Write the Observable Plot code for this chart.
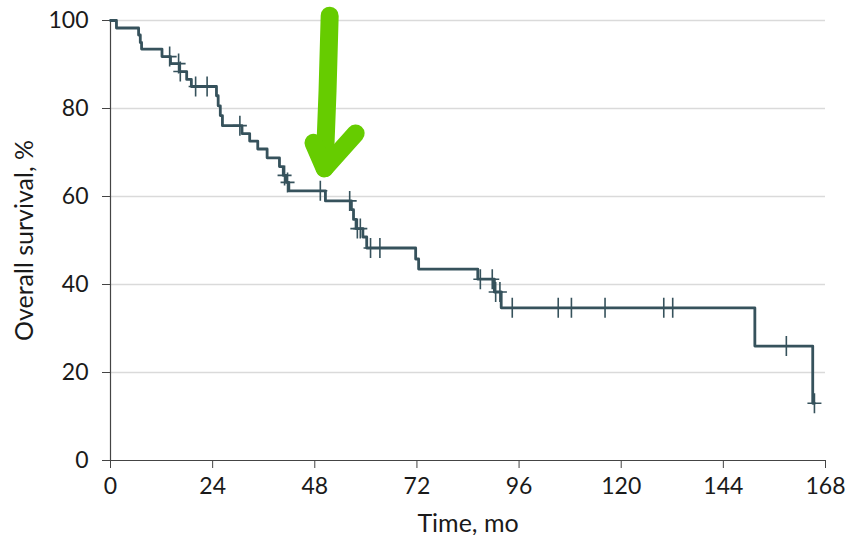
<!DOCTYPE html>
<html>
<head>
<meta charset="utf-8">
<script src="https://cdn.jsdelivr.net/npm/d3@7"></script>
<script src="https://cdn.jsdelivr.net/npm/@observablehq/plot@0.6"></script>
<style>
  body { margin: 0; background: #fff; }
</style>
</head>
<body>
<div id="chart"></div>
<script>
// Kaplan-Meier overall survival: event times (months) and survival (%) after each step
const stepTimes = [0, 1.4, 6.6, 7.0, 7.3, 12.1, 14.1, 16.2, 17.9, 19.0, 24.9, 25.3, 25.8, 26.3,
  30.9, 32.7, 34.6, 36.8, 39.7, 40.6, 41.3, 41.9, 50.5, 56.6, 57.1, 57.7, 59.3, 60.2,
  71.7, 72.4, 86.3, 90.2, 91.8, 151.4, 165.0, 165.4];
const stepSurvival = [100, 98.3, 96.7, 95.0, 93.5, 91.8, 90.2, 88.4, 86.6, 85.0, 82.9, 80.6, 78.4, 76.1,
  74.3, 72.6, 70.8, 68.8, 66.8, 64.8, 63.2, 61.3, 59.0, 57.0, 54.8, 52.7, 50.8, 48.3,
  45.8, 43.5, 41.2, 38.3, 34.7, 26.0, 13.0, 13.0];

// Censored observations
const censorTimes = [13.9, 16.0, 16.4, 20.0, 22.7, 30.4, 40.9, 41.6, 49.3, 56.2, 58.0, 58.7,
  61.1, 63.3, 86.9, 89.7, 90.5, 91.5, 94.4, 105.2, 108.3, 116.2, 130.0, 132.1, 158.8, 165.4];
const censorSurvival = [91.8, 90.2, 88.4, 85.0, 85.0, 76.1, 64.8, 63.2, 61.3, 59.0, 52.7, 52.7,
  48.3, 48.3, 41.2, 41.2, 38.3, 38.3, 34.7, 34.7, 34.7, 34.7, 34.7, 34.7, 26.0, 13.0];

const xTicks = [0, 24, 48, 72, 96, 120, 144, 168];
const yTicks = [0, 20, 40, 60, 80, 100];
const gridTicks = [20, 40, 60, 80, 100];

// Hand-drawn highlight arrow (shaft and head) in chart units
const arrowShaftT = [51.5, 51.0, 50.3];
const arrowShaftS = [101.1, 84.1, 66.4];
const arrowHeadT = [47.7, 50.3, 57.6];
const arrowHeadS = [72.2, 66.4, 74.3];

const kmLine = stepTimes.map((t, i) => ({t, s: stepSurvival[i]}));
const censors = censorTimes.map((t, i) => ({t, s: censorSurvival[i]}));
const shaft = arrowShaftT.map((t, i) => ({t, s: arrowShaftS[i]}));
const head = arrowHeadT.map((t, i) => ({t, s: arrowHeadS[i]}));

// Censor mark: a plus with a taller vertical arm
const censorSymbol = {
  draw(context) {
    context.moveTo(-7, 0); context.lineTo(7, 0);
    context.moveTo(0, -10); context.lineTo(0, 10);
  }
};

const ink = "#36525c";
const font = "Lato, 'Open Sans', sans-serif";

const chart = Plot.plot({
  width: 848,
  height: 535,
  marginLeft: 110,
  marginRight: 23,
  marginTop: 20,
  marginBottom: 75,
  style: {fontFamily: font, fontSize: "23px", color: "#1a1a1a", background: "#fff"},
  x: {domain: [0, 168]},
  y: {domain: [0, 100]},
  marks: [
    Plot.gridY(gridTicks, {stroke: "#dadada", strokeOpacity: 1, strokeWidth: 1.6}),
    Plot.axisX({ticks: xTicks, tickSize: 8, tickPadding: 9, stroke: "#444", fontSize: 23, label: null}),
    Plot.axisX({ticks: [], tickSize: 0, label: "Time, mo", labelAnchor: "center", labelArrow: "none",
      labelOffset: 71, fontSize: 25}),
    Plot.axisY({ticks: yTicks, tickSize: 8, tickPadding: 14, stroke: "#444", fontSize: 23, label: null}),
    Plot.axisY({ticks: [], tickSize: 0, label: "Overall survival, %", labelAnchor: "center", labelArrow: "none",
      labelOffset: 95, fontSize: 25}),
    Plot.ruleX([0], {stroke: "#444", strokeWidth: 1.2}),
    Plot.ruleY([0], {stroke: "#444", strokeWidth: 1.2}),
    Plot.line(kmLine, {x: "t", y: "s", curve: "step-after", stroke: ink, strokeWidth: 2.8}),
    Plot.dot(censors, {x: "t", y: "s", symbol: censorSymbol, fill: "none", stroke: ink, strokeWidth: 1.6}),
    Plot.line(shaft, {x: "t", y: "s", stroke: "#66cc00", strokeWidth: 18, strokeLinecap: "round", strokeLinejoin: "round"}),
    Plot.line(head, {x: "t", y: "s", stroke: "#66cc00", strokeWidth: 18, strokeLinecap: "round", strokeLinejoin: "round"})
  ]
});

document.getElementById("chart").appendChild(chart);
</script>
</body>
</html>
